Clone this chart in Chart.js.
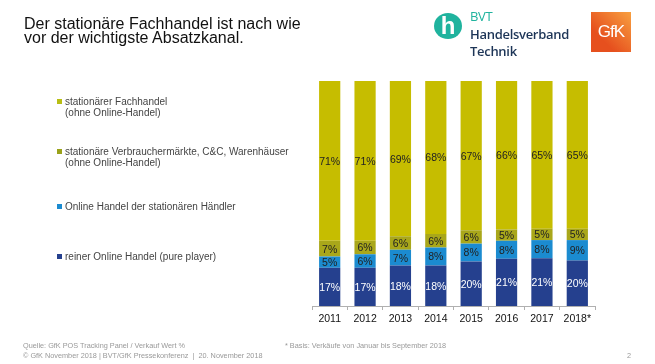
<!DOCTYPE html>
<html>
<head>
<meta charset="utf-8">
<script src="https://cdn.jsdelivr.net/npm/chart.js@4/dist/chart.umd.min.js"></script>
<style>
  body { margin: 0; background: #fff; font-family: "Liberation Sans", Arial, sans-serif; }
  #page { position: relative; width: 655px; height: 364px; overflow: hidden; }
  #chart-wrap { position: absolute; left: 0; top: 0; width: 655px; height: 364px; }
  .abs { position: absolute; white-space: nowrap; }
  #title { left: 24px; top: 17px; font-size: 16px; line-height: 14px; color: #111; }
  .legend-item { position: absolute; left: 57px; font-size: 10px; line-height: 11px; color: #444; }
  .legend-item span { display: inline-block; width: 5px; height: 5px; margin-right: 3px; vertical-align: 1px; }
  .foot { font-size: 7.3px; color: #999; }
  #bvt-circle { left: 434px; top: 13px; width: 28px; height: 26px; border-radius: 50%; background: #1fb39e;
                color: #fff; font-weight: bold; font-size: 24px; line-height: 25px; text-align: center; }
  #bvt-text { left: 470px; top: 8px; font-size: 13px; line-height: 17.5px; color: #1d3557; font-weight: 600;
              font-family: "Open Sans", sans-serif; letter-spacing: -0.3px; }
  #gfk { left: 591px; top: 12px; width: 40px; height: 40px; background: linear-gradient(225deg, #f8a040, #e6501e 70%);
         color: #fff; font-size: 17px; line-height: 40px; text-align: center; letter-spacing: -1px; }
</style>
</head>
<body>
<div id="page">
  <div id="chart-wrap"><canvas id="barchart"></canvas></div>

  <div id="title" class="abs">Der stationäre Fachhandel ist nach wie<br>vor der wichtigste Absatzkanal.</div>

  <div id="bvt-circle" class="abs">h</div>
  <div id="bvt-text" class="abs"><span style="color:#1fb39e; font-weight:400">BVT</span><br>Handelsverband<br>Technik</div>
  <div id="gfk" class="abs">GfK</div>

  <div id="legend"></div>

  <div class="abs foot" style="left:23px; top:341px;">Quelle: GfK POS Tracking Panel / Verkauf Wert %</div>
  <div class="abs foot" style="left:23px; top:351px;">© GfK November 2018 | BVT/GfK Pressekonferenz &nbsp;|&nbsp; 20. November 2018</div>
  <div class="abs foot" style="left:285px; top:341px;">* Basis: Verkäufe von Januar bis September 2018</div>
  <div class="abs foot" style="left:627px; top:351px;">2</div>
</div>

<script>
"use strict";

// categories (years) and the four channel shares in %
const years = ['2011', '2012', '2013', '2014', '2015', '2016', '2017', '2018*'];
const purePlayer = [17, 17, 18, 18, 20, 21, 21, 20];
const onlineStationaer = [5, 6, 7, 8, 8, 8, 8, 9];
const verbrauchermaerkte = [7, 6, 6, 6, 6, 5, 5, 5];
const fachhandel = [71, 71, 69, 68, 67, 66, 65, 65];

const seriesNames = [
    'reiner Online Handel (pure player)',
    'Online Handel der stationären Händler',
    'stationäre Verbrauchermärkte, C&C, Warenhäuser\n(ohne Online-Handel)',
    'stationärer Fachhandel\n(ohne Online-Handel)'
];

const barColors = ['#25408e', '#1b8bd0', '#a9a71a', '#c6bd00'];
const legendColors = ['#25408e', '#1b8bd0', '#9aa21a', '#b8be14'];
const labelColors = ['#ffffff', '#222222', '#222222', '#222222'];

const allSeries = [purePlayer, onlineStationaer, verbrauchermaerkte, fachhandel];

// rounded shares don't always add to 100, so the bars are scaled to a full 100%
const totals = years.map((y, j) => allSeries.reduce((s, vals) => s + vals[j], 0));

// build the html legend (top of stack first)
const legendTops = [251, 201, 146, 96];
const legend = document.querySelector('#legend');
seriesNames.forEach((name, i) => {
    const div = document.createElement('div');
    div.className = 'legend-item';
    div.style.top = legendTops[i] + 'px';
    const lines = name.split('\n');
    div.innerHTML = `<span style="background:${legendColors[i]}"></span>${lines[0]}` +
        (lines[1] ? `<br><span style="background:transparent"></span>${lines[1]}` : '');
    legend.appendChild(div);
});

// simple plugin for the percent labels inside the segments
const segmentLabels = {
    id: 'segmentLabels',
    afterDatasetsDraw(chart) {
        const c = chart.ctx;
        c.save();
        c.font = '10.5px "Liberation Sans", Arial, sans-serif';
        c.textAlign = 'center';
        c.textBaseline = 'middle';
        chart.data.datasets.forEach((ds, i) => {
            chart.getDatasetMeta(i).data.forEach((bar, j) => {
                const top = Math.min(bar.y, bar.base);
                const bottom = Math.max(bar.y, bar.base);
                c.fillStyle = labelColors[i];
                c.fillText(allSeries[i][j] + '%', bar.x, (top + bottom) / 2 + 1);
            });
        });
        c.restore();
    }
};

const datasets = allSeries.map((vals, i) => ({
    label: seriesNames[i],
    data: vals.map((v, j) => v / totals[j] * 100),
    backgroundColor: barColors[i],
    borderWidth: 0,
    categoryPercentage: 1,
    barPercentage: 0.6
}));

new Chart(document.querySelector('#barchart'), {
    type: 'bar',
    data: { labels: years, datasets: datasets },
    options: {
        responsive: true,
        maintainAspectRatio: false,
        animation: false,
        layout: { padding: { left: 312, right: 60, top: 81, bottom: 36 } },
        plugins: {
            legend: { display: false },
            tooltip: { enabled: false }
        },
        scales: {
            x: {
                stacked: true,
                afterFit: (scale) => { scale.height = 22; },
                grid: { display: true, drawOnChartArea: false, tickLength: 4, color: '#b0b0b0' },
                border: { color: '#b0b0b0' },
                ticks: {
                    color: '#111',
                    font: { size: 10.5, family: '"Liberation Sans", Arial, sans-serif' },
                    padding: 3,
                    maxRotation: 0,
                    autoSkip: false
                }
            },
            y: {
                stacked: true,
                display: false,
                min: 0,
                max: 100
            }
        }
    },
    plugins: [segmentLabels]
});
</script>
</body>
</html>
